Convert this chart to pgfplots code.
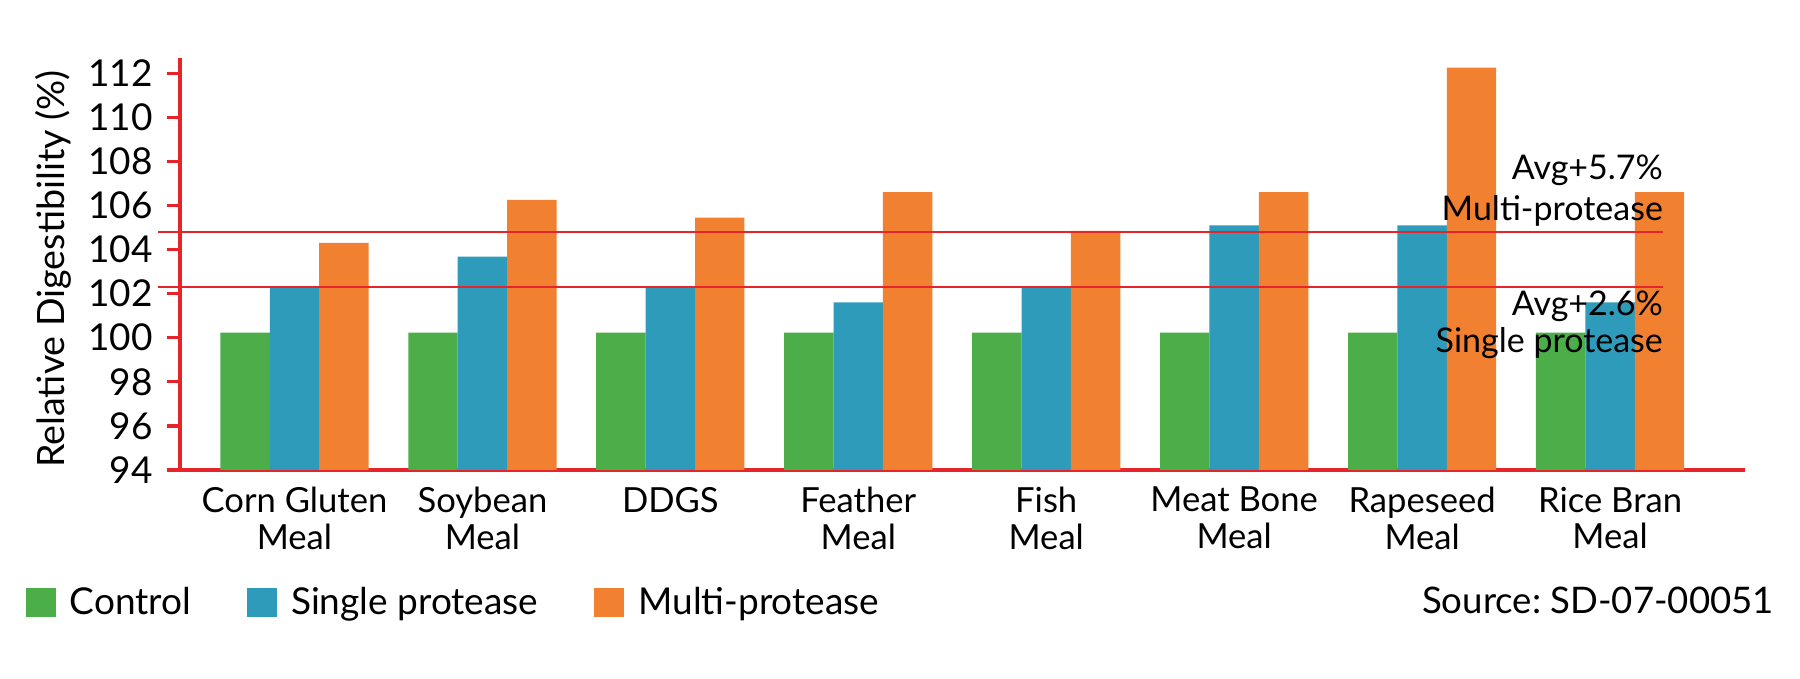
\documentclass[border=0pt]{standalone}
\usepackage{fontspec}
\setmainfont{Lato}
\usepackage{pgfplots}
\pgfplotsset{compat=1.18}
\definecolor{axred}{RGB}{230,37,42}
\definecolor{cgreen}{RGB}{75,174,72}
\definecolor{cblue}{RGB}{47,155,187}
\definecolor{corange}{RGB}{242,128,49}
\frenchspacing
\begin{document}
\begin{tikzpicture}
\begin{axis}[
  name=ax, at={(0,0)}, anchor=south west,
  scale only axis, width=782.5pt, height=206pt,
  xmin=-0.609, xmax=7.718, ymin=94, ymax=112.69,
  clip mode=individual,
  axis x line=bottom, axis y line=left,
  axis line style={axred, line width=1.6pt, -},
  x axis line style={shorten <=-6.5pt},
  ytick={94,96,...,112},
  xtick={0,...,7},
  xticklabels={{Corn Gluten\\Meal},{Soybean\\Meal},{DDGS},{Feather\\Meal},{Fish\\Meal},{Meat Bone\\Meal},{Rapeseed\\Meal},{Rice Bran\\Meal}},
  xticklabel style={align=center, font=\fontsize{17.3}{18.3}\selectfont, inner sep=0pt, yshift=-1.8pt},
  major x tick style={draw=none},
  tick align=outside, major tick length=6.5pt,
  major y tick style={axred, line width=1.6pt},
  yticklabel style={font=\fontsize{18.5}{21}\selectfont, inner sep=0pt, xshift=-7pt},
  /pgf/number format/assume math mode=true,
  ylabel={Relative Digestibility (\%)},
  ylabel style={font=\fontsize{18.8}{21}\selectfont, at={(axis description cs:-0.081,0.488)}, anchor=center},
  ybar=0pt, bar width=24.7pt,
  legend style={draw=none, fill=none, at={(axis description cs:-0.0988,-0.3207)}, anchor=west,
    font=\fontsize{18.5}{21}\selectfont, inner sep=0pt, legend columns=3,
    /tikz/every odd column/.append style={column sep=5pt},
    /tikz/every even column/.append style={column sep=26pt}},
  legend cell align=left,
  legend image code/.code={\fill[#1] (0pt,-7.3pt) rectangle (15pt,7.3pt);},
]
\addplot[fill=cgreen, draw=none, bar shift=-24.7pt] coordinates {(0,100.23) (1,100.23) (2,100.23) (3,100.23) (4,100.23) (5,100.23) (6,100.23) (7,100.23)};
\addlegendentry{Control}
\addplot[fill=cblue, draw=none, bar shift=0pt] coordinates {(0,102.32) (1,103.68) (2,102.32) (3,101.6) (4,102.32) (5,105.1) (6,105.1) (7,101.6)};
\addlegendentry{Single protease}
\addplot[fill=corange, draw=none, bar shift=24.7pt] coordinates {(0,104.3) (1,106.25) (2,105.45) (3,106.6) (4,104.85) (5,106.6) (6,112.25) (7,106.6)};
\addlegendentry{Multi-protease}
\addplot[sharp plot, axred, line width=1pt, clip=false, forget plot] coordinates {(-0.726,104.81) (7.283,104.81)};
\addplot[sharp plot, axred, line width=1pt, clip=false, forget plot] coordinates {(-0.726,102.32) (7.283,102.32)};
\node[anchor=base east, inner sep=0pt, font=\fontsize{17}{18}\selectfont] at (axis cs:7.283,107.16) {Avg+5.7\%};
\node[anchor=base east, inner sep=0pt, font=\fontsize{17}{18}\selectfont] at (axis cs:7.283,105.34) {Multi-protease};
\node[anchor=base east, inner sep=0pt, font=\fontsize{17}{18}\selectfont] at (axis cs:7.283,100.99) {Avg+2.6\%};
\node[anchor=base east, inner sep=0pt, font=\fontsize{17}{18}\selectfont] at (axis cs:7.283,99.31) {Single protease};
\node[anchor=base east, inner sep=0pt, font=\fontsize{18.3}{21}\selectfont] at (axis description cs:1.0188,-0.3471) {Source: SD-07-00051};
\end{axis}
\pgfresetboundingbox
\path[use as bounding box] (-90pt,-104.5pt) rectangle (810pt,235pt);
\end{tikzpicture}
\end{document}
